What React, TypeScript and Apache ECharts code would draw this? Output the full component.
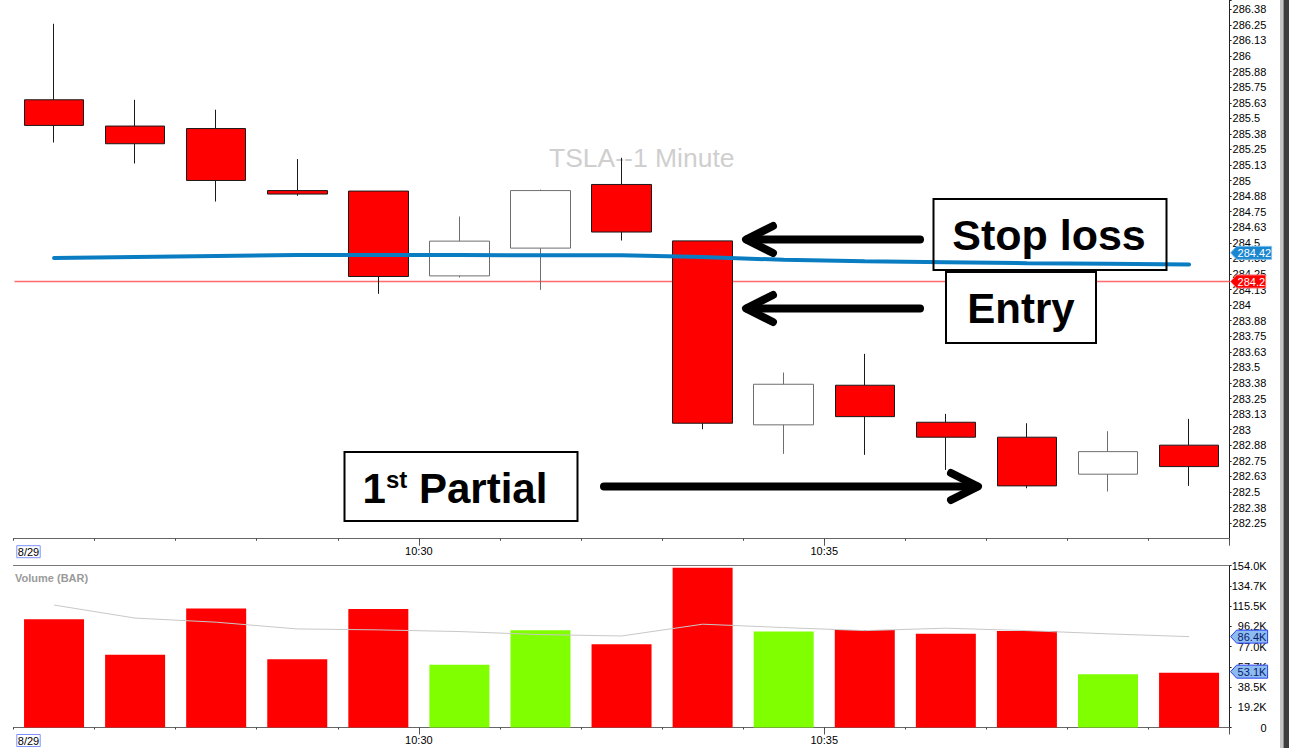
import React, { useEffect, useRef } from 'react';
import * as echarts from 'echarts';

const FONT = '"Liberation Sans", Arial, Helvetica, sans-serif';

const categories = ['10:26', '10:27', '10:28', '10:29', '10:30', '10:31', '10:32', '10:33', '10:34', '10:35', '10:36', '10:37', '10:38', '10:39', '10:40'];
const opens = [285.649, 285.438, 285.418, 284.92, 284.916, 284.235, 284.458, 284.969, 284.516, 283.039, 283.357, 283.06, 282.94, 282.643, 282.876];
const closes = [285.443, 285.296, 285.001, 284.892, 284.23, 284.514, 284.92, 284.587, 283.052, 283.365, 283.105, 282.94, 282.549, 282.824, 282.704];
const lows = [285.306, 285.137, 284.832, 284.878, 284.091, 284.222, 284.123, 284.519, 283.004, 282.806, 282.798, 282.677, 282.53, 282.504, 282.549];
const highs = [286.259, 285.649, 285.569, 285.173, 284.916, 284.712, 284.928, 285.183, 284.516, 283.459, 283.609, 283.127, 283.052, 282.988, 283.087];
const maValues = [284.378, 284.386, 284.394, 284.402, 284.402, 284.402, 284.401, 284.4, 284.386, 284.364, 284.352, 284.345, 284.337, 284.332, 284.326];
const volumes = [103000, 69200, 113200, 64800, 112600, 59600, 92500, 79100, 151800, 91200, 92800, 89200, 91800, 50700, 52000];
const volumeMa = [116400, 104000, 100100, 93700, 92800, 91200, 88300, 87000, 98200, 95000, 92100, 94400, 92100, 89000, 86400];

const xTickPositions = [0, 5, 10];
const xTickLabels = ['8/29', '10:30', '10:35'];

const entryPrice = 284.19;
const priceBadgeValues = [284.42, 284.19];
const priceBadgeTexts = ['284.42', '284.2'];
const volumeBadgeValues = [86400, 53100];
const volumeBadgeTexts = ['86.4K', '53.1K'];

const titleText = 'TSLA--1 Minute';
const paneLabel = 'Volume (BAR)';

const fmtPrice = (v: number) => {
  const k = v * 8;
  if (Math.abs(k - Math.round(k)) > 1e-6) return '';
  return String(parseFloat(v.toFixed(2)));
};

const fmtVol = (v: number) => {
  if (v === 0) return '0';
  return (Math.floor(v / 100 + 1e-9) / 10).toFixed(1) + 'K';
};

const fmtTime = (v: number) => {
  const r = Math.round(v);
  if (Math.abs(v - r) > 1e-6) return '';
  const i = xTickPositions.indexOf(r);
  if (i < 0) return '';
  if (i === 0) return '{sp| }{d|' + xTickLabels[0] + '}';
  return xTickLabels[i];
};

const timeLabel = {
  color: '#000',
  fontSize: 11,
  fontFamily: FONT,
  margin: 7,
  formatter: fmtTime,
  rich: {
    sp: { width: 30, fontSize: 11 },
    d: { fontSize: 11, color: '#000', fontFamily: FONT, borderColor: '#8090ff', borderWidth: 1, padding: [1, 1, 0, 1] },
  },
};

function makeXAxes(gridIndex: number) {
  return [
    {
      type: 'category',
      gridIndex,
      data: categories,
      position: 'bottom',
      boundaryGap: true,
      axisLine: { show: true, onZero: false, lineStyle: { color: '#666', width: 1 } },
      axisTick: { show: true, interval: (i: number) => i > 0 && xTickPositions.includes(i), length: 7, lineStyle: { color: '#555' } },
      axisLabel: { show: false },
      splitLine: { show: false },
    },
    {
      type: 'value',
      gridIndex,
      min: 0,
      max: 15,
      interval: 1,
      position: 'bottom',
      axisLine: { show: false, onZero: false },
      axisTick: { show: true, length: 2, lineStyle: { color: '#444' } },
      axisLabel: timeLabel,
      splitLine: { show: false },
    },
  ];
}

export default function App() {
  const ref = useRef<HTMLDivElement>(null);

  useEffect(() => {
    if (!ref.current) return;
    const chart = echarts.init(ref.current, null, { renderer: 'svg' });

    const option: any = {
      animation: false,
      backgroundColor: '#ffffff',
      textStyle: { fontFamily: FONT },
      grid: [
        { left: 13.5, right: 59.4, top: 0, height: 538.7, containLabel: false, outerBoundsMode: 'none' },
        { left: 13.5, right: 59.4, top: 565.5, height: 162, containLabel: false, outerBoundsMode: 'none' },
      ],
      xAxis: [
        ...makeXAxes(0),
        ...makeXAxes(1),
        {
          type: 'category',
          gridIndex: 1,
          data: categories,
          position: 'top',
          axisLine: { show: true, onZero: false, lineStyle: { color: '#777', width: 1 } },
          axisTick: { show: false },
          axisLabel: { show: false },
          splitLine: { show: false },
        },
      ],
      yAxis: [
        {
          type: 'value',
          gridIndex: 0,
          position: 'right',
          min: 282.125,
          max: 286.45,
          interval: 0.125,
          axisLine: { show: true, onZero: false, lineStyle: { color: '#222' } },
          axisTick: { show: true, length: 2, lineStyle: { color: '#222' } },
          axisLabel: { color: '#000', fontSize: 11, fontFamily: FONT, margin: 3, formatter: fmtPrice, showMinLabel: false },
          splitLine: { show: false },
        },
        {
          type: 'value',
          gridIndex: 1,
          position: 'right',
          min: 0,
          max: 154000,
          interval: 19250,
          axisLine: { show: true, onZero: false, lineStyle: { color: '#222' } },
          axisTick: { show: true, length: 2, lineStyle: { color: '#222' } },
          axisLabel: { color: '#000', fontSize: 11, fontFamily: FONT, margin: 37, align: 'right', formatter: fmtVol },
          splitLine: { show: false },
        },
      ],
      series: [
        {
          type: 'candlestick',
          xAxisIndex: 0,
          yAxisIndex: 0,
          barWidth: 60,
          data: categories.map((_, i) => [opens[i], closes[i], lows[i], highs[i]]),
          itemStyle: { color: '#ffffff', color0: '#ff0000', borderColor: '#6e6e6e', borderColor0: '#1a1a1a', borderWidth: 1 },
          z: 2,
        },
        {
          type: 'line',
          xAxisIndex: 0,
          yAxisIndex: 0,
          data: maValues,
          symbol: 'none',
          lineStyle: { color: '#0a7dc2', width: 4, cap: 'round' },
          z: 3,
        },
        {
          type: 'bar',
          xAxisIndex: 2,
          yAxisIndex: 1,
          barWidth: 60,
          data: volumes.map((v, i) => ({ value: v, itemStyle: { color: closes[i] >= opens[i] ? '#80ff00' : '#ff0000' } })),
          z: 2,
        },
        {
          type: 'line',
          xAxisIndex: 2,
          yAxisIndex: 1,
          data: volumeMa,
          symbol: 'none',
          lineStyle: { color: '#c8c8c8', width: 1 },
          z: 3,
        },
      ],
    };

    chart.setOption(option);

    const xl = chart.convertToPixel({ xAxisIndex: 1 } as any, 0) as unknown as number;
    const xr = chart.convertToPixel({ xAxisIndex: 1 } as any, 15) as unknown as number;
    const yEntry = chart.convertToPixel({ yAxisIndex: 0 } as any, entryPrice) as unknown as number;

    const badges: any[] = [];
    const addBadge = (id: string, y: number, w: number, text: string, fill: string, stroke: string, color: string) => {
      const x0 = xr + 1;
      const h = 6.5;
      badges.push({
        type: 'polygon',
        id: id + '_bg',
        z: 60,
        shape: { points: [[x0, y], [x0 + 6, y - h], [x0 + w, y - h], [x0 + w, y + h], [x0 + 6, y + h]] },
        style: { fill, stroke, lineWidth: 1 },
      });
      badges.push({
        type: 'text',
        id: id + '_tx',
        z: 61,
        style: { text, x: x0 + 7, y: y + 0.5, verticalAlign: 'middle', align: 'left', fill: color, fontSize: 11, fontFamily: FONT },
      });
    };
    priceBadgeValues.forEach((v, i) => {
      const y = chart.convertToPixel({ yAxisIndex: 0 } as any, v) as unknown as number;
      if (i === 0) addBadge('pb' + i, y, 41, priceBadgeTexts[i], '#1a86cf', '#7cc0f0', '#ffffff');
      else addBadge('pb' + i, y, 35, priceBadgeTexts[i], '#ff0000', '#ff7070', '#ffffff');
    });
    volumeBadgeValues.forEach((v, i) => {
      const y = chart.convertToPixel({ yAxisIndex: 1 } as any, v) as unknown as number;
      addBadge('vb' + i, y, 37, volumeBadgeTexts[i], '#8cbcf0', '#2a40f0', '#0a1a70');
    });

    const arrow = (id: string, pts: number[][], head: number[][]) => [
      { type: 'polyline', id: id + '_s', z: 55, shape: { points: pts }, style: { stroke: '#000', lineWidth: 8, lineCap: 'round', lineJoin: 'round', fill: 'none' } },
      { type: 'polyline', id: id + '_h', z: 55, shape: { points: head }, style: { stroke: '#000', lineWidth: 8, lineCap: 'round', lineJoin: 'round', fill: 'none' } },
    ];

    const annotations: any[] = [
      {
        type: 'text',
        id: 'title',
        z: 0,
        style: { text: titleText, x: 549, y: 158, verticalAlign: 'middle', align: 'left', fill: '#cfcfcf', fontSize: 26.5, fontFamily: FONT },
      },
      {
        type: 'rect',
        id: 'entry_line',
        z: 1,
        shape: { x: xl + 1, y: yEntry - 0.75, width: xr - xl - 1, height: 1.5 },
        style: { fill: '#ff6a6a' },
      },
      {
        type: 'text',
        id: 'pane',
        z: 50,
        style: { text: paneLabel, x: 15, y: 578, verticalAlign: 'middle', align: 'left', fill: '#9a9a9a', fontSize: 11, fontWeight: 'bold', fontFamily: FONT },
      },
      { type: 'rect', id: 'sl_box', z: 50, shape: { x: 933.5, y: 199, width: 233, height: 71 }, style: { fill: 'none', stroke: '#000', lineWidth: 2 } },
      {
        type: 'text',
        id: 'sl_tx',
        z: 51,
        style: { text: 'Stop loss', x: 1049, y: 235, align: 'center', verticalAlign: 'middle', fill: '#000', fontSize: 43, fontWeight: 'bold', fontFamily: FONT },
      },
      { type: 'rect', id: 'en_box', z: 50, shape: { x: 946, y: 272, width: 150, height: 71 }, style: { fill: '#ffffff', stroke: '#000', lineWidth: 2 } },
      {
        type: 'text',
        id: 'en_tx',
        z: 51,
        style: { text: 'Entry', x: 1021, y: 308, align: 'center', verticalAlign: 'middle', fill: '#000', fontSize: 42, fontWeight: 'bold', fontFamily: FONT },
      },
      { type: 'rect', id: 'pp_box', z: 50, shape: { x: 344.5, y: 452, width: 233, height: 69 }, style: { fill: '#ffffff', stroke: '#000', lineWidth: 2 } },
      {
        type: 'text',
        id: 'pp_tx',
        z: 51,
        style: {
          text: '{a|1}{b|st}{a| Partial}',
          x: 455,
          y: 488,
          align: 'center',
          verticalAlign: 'middle',
          fill: '#000',
          fontFamily: FONT,
          rich: {
            a: { fontSize: 42, fontWeight: 'bold', fontFamily: FONT, fill: '#000' },
            b: { fontSize: 24, fontWeight: 'bold', fontFamily: FONT, fill: '#000', verticalAlign: 'top', lineHeight: 34 },
          },
        },
      },
      ...arrow('a1', [[747, 239.5], [920, 239.5]], [[773, 226], [746, 239.5], [773, 253]]),
      ...arrow('a2', [[747, 308.5], [920, 308.5]], [[773, 295], [746, 308.5], [773, 322]]),
      ...arrow('a3', [[604, 486.5], [977, 486.5]], [[951, 473], [978, 486.5], [951, 500]]),
      { type: 'rect', id: 'strip1', z: 70, shape: { x: 1280, y: 0, width: 3.5, height: 748 }, style: { fill: '#c6c6c6' } },
      { type: 'rect', id: 'strip2', z: 70, shape: { x: 1283.5, y: 0, width: 5.5, height: 748 }, style: { fill: '#3e3e3e' } },
    ];

    chart.setOption({ graphic: { elements: [...annotations, ...badges] } });

    return () => {
      chart.dispose();
    };
  }, []);

  return <div ref={ref} style={{ position: 'fixed', left: 0, top: 0, width: 1289, height: 748 }} />;
}
